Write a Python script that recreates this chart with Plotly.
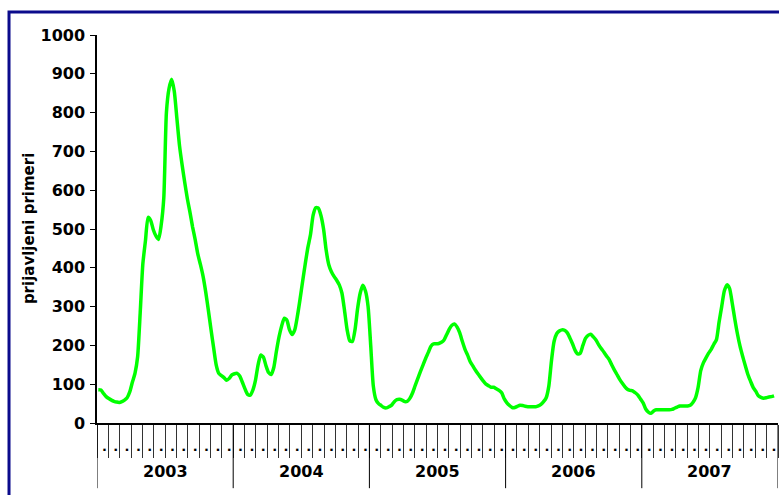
import plotly.graph_objects as go

# ---- data (weekly reported cases) ----
years = [2003, 2004, 2005, 2006, 2007]
weeks_per_year = 52
months_per_year = 12

cases_2003 = [86, 85, 76, 68, 63, 59, 56, 54, 53, 55, 59, 65, 80, 105, 128, 170, 285, 410, 470, 530,
              522, 498, 482, 473, 510, 580, 800, 862, 886, 855, 785, 715, 665, 620, 578, 543, 505, 472,
              435, 408, 378, 338, 291, 242, 195, 150, 128, 122, 117, 110, 115, 124]
cases_2004 = [127, 128, 121, 105, 88, 74, 72, 85, 110, 150, 175, 170, 148, 130, 125, 143, 185, 222, 250,
              270, 265, 240, 228, 240, 275, 318, 365, 410, 452, 485, 535, 555, 554, 535, 500, 445, 408,
              390, 378, 368, 356, 335, 290, 240, 212, 210, 240, 295, 335, 355, 340, 300]
cases_2005 = [200, 95, 60, 50, 45, 40, 39, 42, 46, 55, 60, 61, 59, 55, 56, 64, 78, 97, 115, 133, 150,
              167, 182, 198, 204, 204, 205, 208, 214, 228, 242, 252, 255, 247, 232, 210, 190, 175, 158,
              147, 136, 126, 117, 108, 100, 96, 92, 92]
cases_2006 = [88, 84, 78, 62, 52, 45, 40, 40, 43, 46, 45, 43, 42, 42, 42, 42, 44, 48, 55, 65, 95, 160,
              210, 230, 237, 240, 239, 233, 220, 205, 188, 178, 180, 200, 218, 226, 229, 222, 214, 202,
              192, 183, 173, 164, 150, 137, 125, 113, 103, 94, 87, 84]
cases_2007 = [83, 78, 72, 62, 52, 36, 28, 25, 31, 34, 34, 34, 34, 34, 34, 35, 38, 41, 44, 44, 44, 44,
              46, 53, 65, 92, 135, 155, 168, 180, 190, 203, 215, 260, 300, 340, 356, 347, 310, 268, 230,
              198, 172, 148, 125, 108, 92, 82, 70, 66, 64, 65, 67, 68, 70]

y_title = "prijavljeni primeri"
y_ticks = [0, 100, 200, 300, 400, 500, 600, 700, 800, 900, 1000]

cases = cases_2003 + cases_2004 + cases_2005 + cases_2006 + cases_2007
week_index = list(range(len(cases)))

n_slots = weeks_per_year * len(years)

FONT = "DejaVu Sans"

fig = go.Figure()
fig.add_trace(go.Scatter(
    x=week_index, y=cases, mode="lines",
    line=dict(color="#00ff00", width=3.5, shape="spline", smoothing=0.6),
    hoverinfo="x+y", showlegend=False,
))

# month tick marks
n_month_ticks = months_per_year * len(years)
month_ticks = [k * weeks_per_year / months_per_year - 0.5 for k in range(n_month_ticks + 1)]
month_text = [""] + ["."] * n_month_ticks

fig.update_xaxes(
    range=[-0.5, n_slots - 0.5], showgrid=False, zeroline=False, automargin=False,
    showline=True, linecolor="black", linewidth=1.5,
    tickmode="array", tickvals=month_ticks, ticktext=month_text,
    ticks="outside", ticklen=33, tickwidth=1, tickcolor="#333333",
    tickfont=dict(family=FONT, size=13, color="black", weight="bold"),
    ticklabelstandoff=-22, ticklabelshift=-4,
)
fig.update_yaxes(
    range=[0, 1000], showgrid=False, zeroline=False, automargin=False,
    showline=True, linecolor="black", linewidth=1.5,
    tickmode="array", tickvals=y_ticks,
    ticks="outside", ticklen=5, tickwidth=1, tickcolor="black",
    tickfont=dict(family=FONT, size=16, color="black", weight="bold"),
    ticklabelstandoff=2,
)

shapes = []
annotations = []
# year dividers and labels
for j, yr in enumerate(years):
    shapes.append(dict(type="line", xref="x", yref="paper",
                       x0=j * weeks_per_year - 0.5, x1=j * weeks_per_year - 0.5,
                       y0=0, y1=-0.168, line=dict(color="black", width=1)))
    annotations.append(dict(xref="x", yref="paper", x=j * weeks_per_year + weeks_per_year / 2 - 0.5,
                            y=-0.124, text=f"<b>{yr}</b>", showarrow=False,
                            font=dict(family=FONT, size=16, color="black"),
                            xanchor="center", yanchor="middle"))
shapes.append(dict(type="line", xref="x", yref="paper",
                   x0=n_slots - 0.5, x1=n_slots - 0.5, y0=0, y1=-0.168,
                   line=dict(color="black", width=1)))

# outer navy frame
shapes.append(dict(type="rect", xref="paper", yref="paper",
                   x0=-0.1292, x1=1.02, y0=-0.21, y1=1.0593,
                   line=dict(color="#0b0b8c", width=3), fillcolor="rgba(0,0,0,0)", layer="below"))

annotations.append(dict(xref="paper", yref="paper", x=-0.1, y=0.502,
                        text=f"<b>{y_title}</b>", textangle=-90, showarrow=False,
                        font=dict(family=FONT, size=15, color="black"),
                        xanchor="center", yanchor="middle"))

fig.update_layout(
    width=779, height=495,
    margin=dict(l=97, r=1, t=35, b=72),
    paper_bgcolor="white", plot_bgcolor="white",
    shapes=shapes, annotations=annotations,
    showlegend=False,
)

fig.write_html("out.html", config={"displayModeBar": False},
               post_script="document.body.style.margin='0';document.body.style.overflow='hidden';")
